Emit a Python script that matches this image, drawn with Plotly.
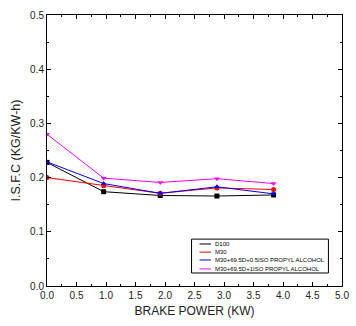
import plotly.graph_objects as go

# ---- data ----
brake_power = [0.0, 0.96, 1.92, 2.88, 3.84]
d100 = [0.228, 0.174, 0.167, 0.166, 0.168]
m30 = [0.200, 0.185, 0.171, 0.181, 0.178]
m30_05iso = [0.229, 0.189, 0.171, 0.183, 0.170]
m30_1iso = [0.280, 0.199, 0.191, 0.198, 0.189]

series_names = ["D100", "M30", "M30+69.5D+0.5ISO PROPYL ALCOHOL", "M30+69.5D+1ISO PROPYL ALCOHOL"]
series_values = [d100, m30, m30_05iso, m30_1iso]
series_colors = ["#000000", "#ff0000", "#0000ff", "#ff00ff"]
series_symbols = ["square", "circle", "triangle-up", "triangle-down"]

FONT = "Liberation Sans, Arial, sans-serif"

fig = go.Figure()
for name, vals, col, sym in zip(series_names, series_values, series_colors, series_symbols):
    fig.add_trace(go.Scatter(
        x=brake_power, y=vals, mode="lines+markers", name=name,
        line=dict(color=col, width=1),
        marker=dict(symbol=sym, size=5, color=col),
        showlegend=False,
    ))

# ---- custom compact legend (paper / overlay coordinates) ----
leg_x0, leg_x1, leg_y0, leg_y1 = 0.490, 0.954, 0.048, 0.173
entry_y = [0.155, 0.125, 0.096, 0.063]
line_x0, line_x1, mark_x, text_x = 0.517, 0.556, 0.536, 0.563

fig.add_shape(type="rect", xref="paper", yref="paper",
              x0=leg_x0, x1=leg_x1, y0=leg_y0, y1=leg_y1,
              line=dict(color="black", width=1), fillcolor="white", layer="above")
for i, (name, col, sym) in enumerate(zip(series_names, series_colors, series_symbols)):
    fig.add_shape(type="line", xref="paper", yref="paper",
                  x0=line_x0, x1=line_x1, y0=entry_y[i], y1=entry_y[i],
                  line=dict(color=col, width=1), layer="above")
    fig.add_annotation(xref="paper", yref="paper", x=text_x, y=entry_y[i],
                       text=name, showarrow=False, xanchor="left", yanchor="middle",
                       font=dict(family=FONT, size=6, color="black"))
fig.add_trace(go.Scatter(
    x=[mark_x] * 4, y=entry_y, mode="markers", xaxis="x2", yaxis="y2",
    marker=dict(symbol=series_symbols, size=4, color=series_colors),
    showlegend=False, hoverinfo="skip",
))

axis_common = dict(
    showline=True, linecolor="black", linewidth=1, mirror="ticks",
    ticks="inside", ticklen=4, tickwidth=1, tickcolor="black",
    showgrid=False, zeroline=False, ticklabeloverflow="allow",
    tickfont=dict(family=FONT, size=10, color="#222"),
)

fig.update_layout(
    width=356, height=326,
    margin=dict(l=47, r=7, t=15, b=40),
    plot_bgcolor="white", paper_bgcolor="white",
    font=dict(family=FONT, color="#222"),
    xaxis=dict(range=[0, 5], dtick=0.5, tick0=0, tickformat=".1f",
               minor=dict(ticks="inside", ticklen=2, dtick=0.25, tickcolor="black"),
               title=dict(text="BRAKE POWER (KW)", font=dict(family=FONT, size=12), standoff=6),
               **axis_common),
    yaxis=dict(range=[0, 0.5], dtick=0.1, tick0=0, tickformat=".1f",
               minor=dict(ticks="inside", ticklen=2, dtick=0.05, tickcolor="black"),
               title=dict(text="I.S.F.C (KG/KW-h)", font=dict(family=FONT, size=12.5), standoff=6),
               **axis_common),
    xaxis2=dict(range=[0, 1], overlaying="x", visible=False, fixedrange=True),
    yaxis2=dict(range=[0, 1], overlaying="y", visible=False, fixedrange=True),
)

fig.write_html("out.html", config={"displayModeBar": False})

# remove the default browser body margin so the figure sits at the page origin
with open("out.html", "r", encoding="utf-8") as f:
    html = f.read()
html = html.replace("<body>", '<body style="margin:0;padding:0;overflow:hidden">', 1)
with open("out.html", "w", encoding="utf-8") as f:
    f.write(html)
